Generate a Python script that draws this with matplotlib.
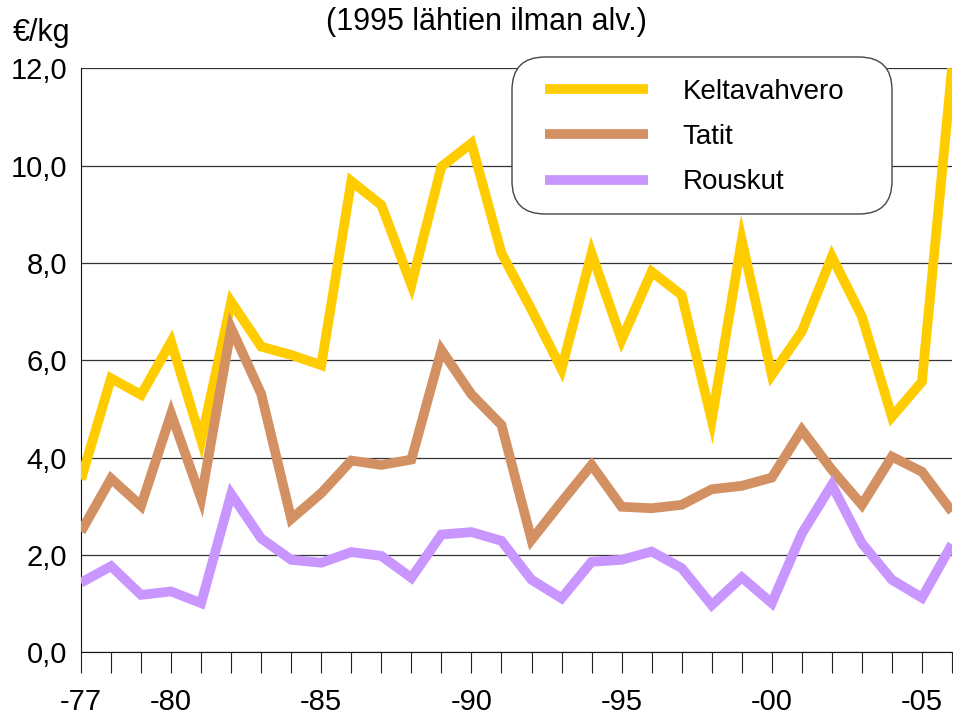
import numpy as np
import matplotlib
matplotlib.use("Agg")
import matplotlib.pyplot as plt
from matplotlib.patches import FancyBboxPatch

plt.rcParams["font.family"] = ["Liberation Sans", "DejaVu Sans"]

years = list(range(1977, 2007))
keltavahvero = [3.55, 5.63, 5.29, 6.38, 4.36, 7.20, 6.28, 6.11, 5.90, 9.68,
                9.19, 7.55, 9.98, 10.46, 8.20, 7.04, 5.82, 8.20, 6.42, 7.82,
                7.34, 4.77, 8.47, 5.70, 6.59, 8.13, 6.90, 4.84, 5.56, 12.0]
tatit = [2.48, 3.57, 3.01, 4.90, 3.16, 6.66, 5.31, 2.74, 3.27, 3.94,
         3.85, 3.96, 6.21, 5.30, 4.67, 2.31, 3.09, 3.85, 2.99, 2.96,
         3.03, 3.35, 3.42, 3.59, 4.57, 3.75, 3.03, 4.02, 3.71, 2.89]
rouskut = [1.43, 1.77, 1.18, 1.25, 1.01, 3.25, 2.34, 1.90, 1.84, 2.06,
           1.98, 1.53, 2.42, 2.47, 2.29, 1.49, 1.11, 1.86, 1.90, 2.07,
           1.73, 0.97, 1.54, 1.01, 2.44, 3.44, 2.24, 1.49, 1.12, 2.22]
series = ["Keltavahvero", "Tatit", "Rouskut"]
colors = ["#FFCC00", "#D39062", "#C995FF"]
label_years = [1977, 1980, 1985, 1990, 1995, 2000, 2005]
y_ticks = [0, 2, 4, 6, 8, 10, 12]

W, H = 954, 718
fig = plt.figure(figsize=(W / 100, H / 100), dpi=100)
ax = fig.add_axes([81/W, 1 - 652.3/H, (952 - 81)/W, (652.3 - 68.3)/H])

for name, vals, c in zip(series, [keltavahvero, tatit, rouskut], colors):
    ax.plot(years, vals, color=c, lw=7, label=name, solid_joinstyle="miter",
            solid_capstyle="butt", zorder=3)

ax.set_xlim(1977, 2006)
ax.set_ylim(0, 12)
ax.set_yticks(y_ticks)
ax.set_yticklabels([f"{v:.1f}".replace(".", ",") for v in y_ticks], fontsize=21)
ax.set_xticks(years)
ax.set_xticklabels([f"-{str(y)[2:]}" if y in label_years else "" for y in years],
                   fontsize=21)
ax.tick_params(axis="x", length=15, width=0.8, color="#222222", pad=11)
ax.tick_params(axis="y", length=0, pad=10)
ax.grid(axis="y", color="#333333", lw=0.9, zorder=1)
for s in ["top", "right"]:
    ax.spines[s].set_visible(False)
ax.spines["left"].set_color("#111111")
ax.spines["bottom"].set_color("#111111")

fig.text(486/W, 1 - 22/H, "(1995 lähtien ilman alv.)", ha="center", va="center",
         fontsize=22)
fig.text(13/W, 1 - 33/H, "€/kg", ha="left", va="center", fontsize=22)

# rounded legend box, drawn in inches so the corners stay round
box = FancyBboxPatch((5.12, (H - 214) / 100), 3.80, 1.57,
                     boxstyle="round,pad=0,rounding_size=0.33",
                     transform=fig.dpi_scale_trans, fc="white", ec="#444444",
                     lw=1.0, zorder=4, clip_on=False)
ax.add_artist(box)
leg = ax.legend(loc="upper left", bbox_to_anchor=(545/W, 1 - 79/H),
                bbox_transform=fig.transFigure, borderaxespad=0, borderpad=0,
                fontsize=20, handlelength=3.7, handletextpad=1.26,
                labelspacing=0.69, frameon=False)
leg.set_zorder(5)
for h in leg.get_lines():
    h.set_linewidth(7)

fig.savefig("out.png", dpi=100)
